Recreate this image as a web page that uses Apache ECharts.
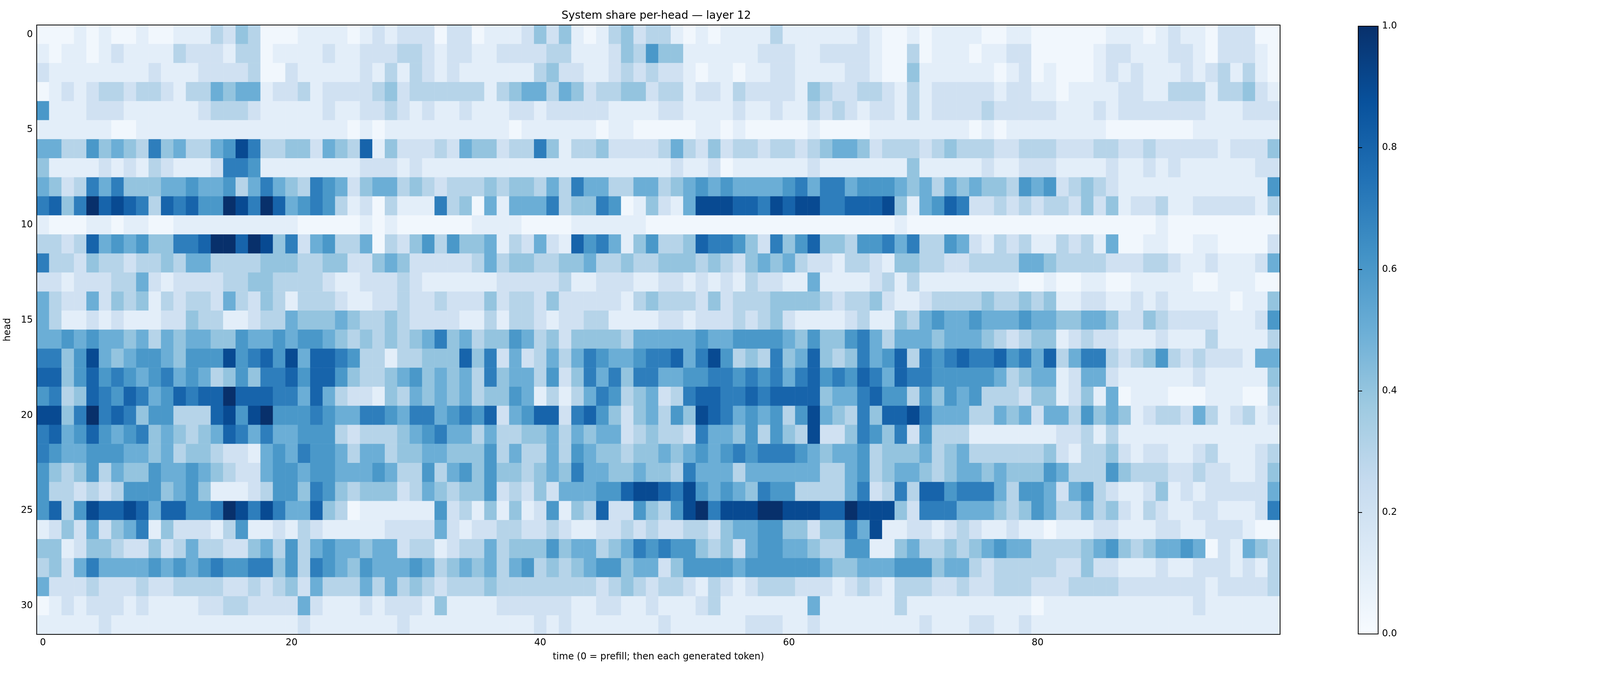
<!DOCTYPE html>
<html><head><meta charset="utf-8">
<script src="https://cdn.jsdelivr.net/npm/echarts@6/dist/echarts.min.js"></script>
<style>html,body{margin:0;padding:0;background:#fff;overflow:hidden}#c{width:100vw;height:100vh}</style>
</head><body><div id="c"></div>
<script>
// Values per head (row), 100 time steps; digit d => d/10 (A => 1.0)
const heads = [
"0 0 0 1 0 1 0 0 1 0 0 1 1 1 3 2 4 3 0 0 0 1 1 1 1  0 1 2 1 2 2 2 0 2 2 0 1 1 1 2 4 2 4 1 0 1 3 4 2 3  3 1 0 1 0 1 1 1 1 3 1 1 1 1 1 1 2 1 0 0 1 0 1 1 1  1 0 0 1 1 0 0 0 0 0 0 1 1 1 0 1 2 1 1 0 2 2 2 0 0",
"1 0 1 1 0 1 2 1 1 1 1 3 2 2 2 1 3 3 0 1 1 1 1 2 1  1 2 2 2 3 3 2 1 2 2 1 1 2 2 2 2 3 3 1 1 1 2 4 3 6  4 4 1 1 1 1 1 1 2 2 2 1 1 2 2 2 2 1 0 0 3 0 1 1 1  0 1 1 2 2 0 0 0 0 0 1 2 2 1 1 1 2 2 1 0 2 2 2 1 0",
"2 1 1 1 1 1 1 1 1 2 1 1 1 2 2 2 2 3 0 0 2 1 1 1 1  1 2 1 3 1 3 2 1 2 1 1 1 1 1 1 3 4 2 2 1 1 2 3 2 3  2 2 1 0 1 1 0 1 1 2 2 1 1 1 1 2 2 1 0 0 4 1 1 1 1  1 1 0 1 2 0 1 0 0 0 1 2 1 2 1 1 1 2 1 2 3 1 3 1 0",
"0 1 2 1 2 3 3 2 3 3 2 1 3 3 5 4 5 5 1 2 2 3 1 2 2  2 2 3 4 2 3 3 3 3 3 3 1 3 4 5 5 3 5 4 2 3 3 4 4 2  3 3 1 2 2 1 3 2 2 2 2 1 4 3 2 2 3 3 2 1 3 1 2 2 2  2 2 1 2 2 1 1 0 1 1 1 1 2 2 1 1 3 3 3 1 3 3 4 2 1",
"6 1 1 1 2 2 2 1 1 1 1 1 1 2 3 3 3 2 1 1 1 1 1 2 1  1 2 2 3 2 1 2 1 1 2 1 1 1 2 2 1 2 2 2 2 2 1 1 1 1  2 2 1 1 1 1 2 1 1 2 1 1 3 2 3 2 1 2 2 1 3 1 2 2 2  2 3 2 2 2 2 2 1 1 1 2 1 2 2 2 2 2 2 2 1 1 1 2 2 2",
"1 1 1 1 1 1 0 0 1 1 1 1 1 1 1 1 1 1 1 1 1 1 1 1 1  0 1 0 1 1 1 1 1 1 1 1 1 1 0 1 1 1 1 1 1 0 1 1 0 0  0 0 0 1 1 0 1 0 0 0 0 0 1 0 0 0 0 1 1 1 1 1 1 1 1  0 1 0 1 1 1 1 1 1 1 1 0 0 0 0 0 0 0 1 1 1 1 1 1 1",
"5 5 3 3 6 4 5 4 3 7 4 5 3 3 5 6 9 7 3 3 4 4 2 5 4  3 8 1 4 2 2 2 3 2 5 4 4 2 3 3 7 4 1 3 3 4 2 2 2 2  3 5 3 2 4 2 3 3 2 3 3 2 3 4 5 5 4 2 3 3 3 2 3 4 3  3 3 2 2 3 3 3 2 2 2 3 3 2 2 3 2 2 2 2 2 1 2 2 2 4",
"4 1 1 1 1 2 1 2 1 3 2 1 1 1 2 7 7 6 1 1 1 1 1 1 1  1 2 2 2 1 2 1 1 1 1 1 1 1 1 1 1 1 1 1 1 1 1 1 1 1  1 2 1 1 2 0 1 1 1 1 1 1 2 1 1 1 1 1 1 1 4 1 1 1 1  1 2 1 1 2 2 2 1 1 1 1 2 1 1 2 1 2 1 1 1 1 1 1 2 2",
"5 4 2 3 7 5 7 4 4 4 5 5 6 5 5 6 3 5 7 5 4 3 7 6 5  2 4 5 5 3 4 3 2 3 3 3 4 3 4 4 3 5 3 7 5 5 3 3 5 5  3 4 5 6 5 6 5 5 5 5 6 7 5 7 7 5 6 6 6 5 4 5 3 5 4  5 4 4 3 6 5 6 2 3 4 3 2 1 1 1 1 1 1 1 1 1 1 1 1 6",
"7 8 4 7 A 8 9 8 7 3 8 7 8 6 6 A 9 7 A 8 5 6 7 6 3  1 2 0 3 1 1 1 7 3 4 0 5 1 5 5 5 7 3 4 4 7 6 0 1 4  2 1 5 9 9 9 8 8 7 9 8 9 9 7 7 8 8 8 9 4 1 5 6 8 7  2 2 3 2 3 2 3 3 2 4 2 4 1 2 2 3 1 1 2 2 2 2 2 1 3",
"1 0 0 0 1 1 0 1 1 0 0 1 1 1 1 1 1 1 1 1 1 0 0 0 0  0 1 0 1 0 0 0 0 0 0 1 1 1 1 0 0 0 0 1 1 1 1 1 1 0  0 0 0 0 0 0 0 0 0 0 0 0 0 0 0 0 0 0 0 1 0 0 0 0 0  0 0 0 0 0 0 0 0 0 0 0 0 0 0 0 1 0 0 0 0 0 0 0 0 0",
"3 3 2 3 8 5 6 5 6 4 4 7 7 8 A A 8 A 9 4 7 2 5 6 3  3 5 0 3 2 4 6 3 6 4 4 5 1 3 2 5 2 1 8 6 7 5 1 4 6  3 3 4 8 7 7 6 4 2 7 4 6 8 4 4 3 6 6 7 5 7 3 3 6 5  2 1 3 2 3 1 1 3 2 3 1 5 0 0 1 1 0 0 1 1 0 0 0 0 2",
"7 3 3 2 4 3 3 2 3 3 4 3 5 5 3 3 3 3 4 4 4 3 3 4 4  2 2 4 5 4 2 2 2 2 2 3 5 3 4 4 3 3 4 4 5 3 3 4 3 3  4 4 4 3 4 3 2 4 5 4 5 3 2 2 1 3 3 2 1 4 4 3 3 2 2  3 3 3 3 5 5 4 3 3 3 3 2 2 2 3 3 2 1 1 2 1 1 1 2 5",
"2 2 1 2 2 2 3 3 5 2 1 2 2 2 2 3 3 4 4 3 3 3 3 2 1  1 2 2 2 3 2 1 1 1 1 1 1 2 2 2 2 2 3 1 1 2 2 2 1 1  2 2 1 2 1 2 1 3 2 2 1 1 5 1 1 1 1 2 3 1 3 1 1 1 1  1 1 1 1 0 0 1 0 0 1 1 0 0 1 1 1 1 1 0 0 1 1 1 0 0",
"5 3 2 2 5 2 4 3 4 1 3 2 3 3 2 5 3 2 4 3 1 3 3 3 2  1 1 2 2 3 2 2 3 2 2 2 4 2 3 3 2 4 2 2 2 2 2 1 3 4  3 3 3 2 4 2 3 3 3 4 4 4 4 3 2 3 3 4 2 1 1 2 3 3 3  3 4 3 3 4 3 4 1 1 2 2 1 1 2 1 2 1 1 1 1 1 0 1 1 4",
"5 3 1 1 2 1 2 1 1 1 2 2 4 3 3 1 1 2 3 3 5 4 4 4 5  4 3 3 4 3 2 2 2 2 1 1 3 1 3 3 2 1 2 2 3 3 1 1 1 1  2 2 1 2 2 2 3 2 3 4 2 1 1 1 1 2 3 1 1 4 3 5 6 5 5  6 5 5 5 6 5 5 4 4 5 5 4 2 2 4 3 2 2 2 2 1 1 1 2 6",
"5 5 6 5 6 5 5 4 5 3 5 4 5 5 4 4 6 5 5 6 5 6 6 5 4  3 4 3 4 3 4 5 7 4 5 3 4 4 6 5 3 4 2 4 4 4 4 3 5 5  5 5 5 6 5 5 6 6 6 6 5 4 6 4 4 6 7 5 3 5 5 5 4 5 5  5 4 3 2 3 4 4 1 2 3 2 2 1 1 1 2 1 1 1 3 1 1 1 1 3",
"7 7 4 6 9 5 4 5 6 6 5 4 6 6 6 9 6 7 8 6 9 5 8 8 7  6 3 3 1 3 3 4 4 4 8 4 7 2 5 2 3 5 3 5 7 6 5 5 6 7  7 8 5 7 9 6 3 4 3 7 4 5 8 4 3 4 7 5 6 8 3 7 6 7 8  7 7 8 6 7 5 8 3 5 7 7 3 2 3 4 6 3 2 3 2 2 2 1 5 5",
"8 8 4 6 8 6 7 6 5 6 7 5 6 5 3 4 6 4 7 7 8 6 8 8 6  4 3 3 4 5 6 4 5 4 5 3 7 4 5 5 3 6 2 4 7 5 7 4 7 7  5 5 6 6 7 7 6 7 6 7 5 7 8 6 7 6 8 7 5 8 7 7 6 6 6  6 6 5 3 4 5 5 1 2 5 5 2 1 1 1 1 1 1 2 1 1 1 1 1 4",
"6 7 3 4 8 7 6 8 7 5 6 8 7 8 8 A 8 8 8 7 7 5 8 5 3  2 2 1 4 3 5 4 5 4 5 3 4 4 6 5 1 3 1 3 5 7 6 3 4 5  2 3 7 8 8 7 7 8 7 8 8 8 8 4 5 5 7 8 6 6 3 6 4 6 5  6 3 3 3 2 4 4 1 2 4 1 5 0 1 1 1 0 0 0 1 1 1 0 0 3",
"9 9 4 7 A 7 8 7 4 6 6 3 3 3 8 9 6 9 A 6 6 6 7 6 5  5 7 7 6 5 7 7 5 6 7 6 8 2 5 6 8 8 2 7 8 6 4 2 4 5  3 6 4 9 8 7 5 6 5 6 3 6 9 5 4 3 7 4 8 8 9 7 5 5 5  3 3 5 4 5 2 5 5 3 6 4 5 4 1 2 3 3 2 5 3 1 2 3 1 2",
"7 8 5 6 8 6 5 6 7 4 5 4 3 4 5 8 7 5 7 5 5 6 6 6 3  2 3 3 3 4 5 6 7 5 5 3 5 3 3 4 4 5 3 5 4 5 5 2 3 4  3 3 2 7 5 5 4 6 3 6 4 3 9 2 2 4 7 6 4 7 2 6 3 3 3  1 1 1 1 1 1 1 2 2 3 1 3 1 1 1 1 1 1 1 1 1 1 1 1 1",
"7 6 5 5 6 6 6 5 5 4 5 3 4 4 3 2 2 1 5 6 5 7 6 6 5  3 5 5 3 4 4 5 5 4 4 4 6 3 5 3 3 5 3 6 5 4 4 3 4 4  5 4 5 6 5 6 7 6 7 7 7 6 5 4 5 5 6 3 4 4 4 5 3 4 5  3 3 3 3 3 3 4 2 1 3 3 4 2 1 2 2 1 1 2 3 1 1 1 2 3",
"6 4 3 4 6 3 5 4 4 6 5 5 6 5 4 3 2 2 5 6 6 5 6 6 5  5 5 6 5 3 3 6 3 5 6 4 6 4 4 3 4 5 4 7 5 5 4 4 5 4  4 3 7 5 5 5 3 5 5 5 5 5 5 3 3 5 6 3 4 5 5 4 3 4 5  5 4 5 4 4 4 6 5 3 3 3 6 4 3 3 3 2 2 3 2 2 1 1 2 4",
"6 3 3 2 3 2 3 6 6 6 4 5 6 4 1 1 1 2 3 6 6 4 7 6 4  3 4 4 4 2 3 5 4 3 4 4 6 2 3 2 4 2 5 5 5 6 6 8 9 9  8 7 9 6 5 6 5 4 7 6 6 3 3 3 3 5 7 2 3 7 3 8 8 6 7  7 7 5 3 6 6 5 2 5 6 3 2 1 1 2 4 1 2 1 2 2 2 2 2 5",
"6 8 3 6 9 8 8 9 8 5 8 8 6 6 7 A 9 7 9 7 5 5 8 4 3  0 1 1 1 1 1 1 6 2 3 1 4 1 4 1 2 6 1 4 3 8 2 2 6 4  3 6 9 A 7 9 9 9 A A 9 9 9 8 8 A 9 9 9 4 2 7 7 7 5  5 5 4 3 4 6 5 3 3 5 3 4 2 1 3 2 1 1 2 2 1 1 1 2 7",
"1 2 4 2 5 2 4 5 7 1 4 2 2 2 1 3 6 1 1 2 1 3 2 1 1  1 1 1 2 2 2 2 5 2 1 2 2 3 3 2 2 3 2 1 1 2 2 3 2 3  2 2 3 3 2 4 5 5 6 6 4 4 2 4 4 7 5 9 1 1 2 2 1 2 3  2 1 1 2 1 1 0 1 1 1 2 2 1 1 1 2 2 1 1 2 2 2 1 0 0",
"4 4 1 2 4 4 3 2 2 4 2 3 5 3 3 2 2 4 5 3 6 3 5 6 5  5 4 5 5 2 3 3 1 2 3 3 5 3 4 4 4 6 4 5 5 3 4 5 7 6  7 6 6 4 3 4 2 5 6 6 5 5 4 3 3 6 6 1 1 4 5 3 3 4 3  4 5 6 5 5 3 3 3 3 4 5 6 4 3 4 5 5 6 5 0 2 1 5 4 3",
"3 4 2 5 7 5 5 5 5 6 5 6 5 6 7 6 6 7 7 4 6 3 7 6 5  4 6 5 5 5 6 5 3 4 5 4 5 3 5 6 3 4 3 4 5 6 6 4 5 5  2 4 6 6 6 6 5 6 6 6 6 6 6 5 4 4 5 5 5 6 6 6 4 5 5  3 2 3 3 3 3 3 2 2 4 2 2 1 1 1 2 1 1 2 2 2 1 2 1 3",
"5 2 2 2 3 2 2 2 3 2 2 3 3 3 3 2 2 3 2 3 4 2 5 3 3  3 5 3 5 3 4 3 2 3 3 3 4 3 3 3 3 3 3 3 3 2 3 4 3 2  3 3 2 1 3 2 1 2 3 3 3 2 2 2 1 2 3 2 1 3 3 3 2 2 3  2 2 3 3 3 2 2 2 3 3 3 3 2 2 2 2 2 2 2 1 2 2 2 2 3",
"0 1 2 1 2 2 2 1 2 1 1 1 1 2 2 3 3 2 2 2 2 5 2 1 1  1 2 1 2 2 2 1 4 1 1 1 1 2 2 2 2 2 2 1 1 2 2 1 1 2  1 1 1 2 3 1 1 1 1 1 1 1 5 1 1 1 1 1 1 3 1 1 1 1 1  1 1 1 1 1 0 1 1 1 1 1 1 1 1 1 1 1 1 2 1 1 1 1 1 1",
"1 1 1 1 1 2 1 1 1 1 1 1 1 1 1 1 1 1 1 1 1 2 1 1 1  1 1 1 1 2 1 1 1 1 1 1 1 1 1 1 2 1 2 1 1 1 1 1 1 1  2 1 1 1 1 1 1 2 2 2 1 1 2 1 1 1 1 1 1 1 1 2 1 1 1  2 2 1 1 2 1 1 1 1 1 1 1 1 1 1 1 1 1 1 1 1 1 1 1 1"
];
const timeSteps = Array.from({length: 100}, (_, i) => String(i));
const headLabels = Array.from({length: 32}, (_, i) => String(i));
const xTickLabels = ['0', '20', '40', '60', '80'];
const yTickLabels = ['0', '5', '10', '15', '20', '25', '30'];
const blues = ['#f7fbff','#deebf7','#c6dbef','#9ecae1','#6baed6','#4292c6','#2171b5','#08519c','#08306b'];

const data = [];
heads.forEach((row, y) => {
  let t = row.trim().split(/\s+/);
  while (t.length < 100) t.push(t[t.length - 1]);
  t = t.slice(0, 100);
  t.forEach((c, x) => {
    const d = c === 'A' ? 10 : parseInt(c, 10);
    data.push([x, y, d === 0 ? 0.03 : d / 10]);
  });
});

const el = document.getElementById('c');
const W = el.clientWidth || 6300, H = el.clientHeight || 1728;
const sx = W / 6300, sy = H / 1728;
const px = (v) => Math.round(v * sx), py = (v) => Math.round(v * sy);
const font = 'DejaVu Sans';
const chart = echarts.init(el, null, {renderer: 'canvas', width: W, height: H});
chart.setOption({
  animation: false,
  backgroundColor: '#fff',
  title: {
    text: 'System share per-head — layer 12', left: px(2576), top: py(22), textAlign: 'center',
    textStyle: {fontFamily: font, fontSize: 28, fontWeight: 'normal', color: '#000'}
  },
  grid: [
    {left: px(112), top: py(64), width: px(4928), height: py(1560), show: true, borderColor: '#000', borderWidth: 2, backgroundColor: 'transparent', z: 5},
    {left: px(5348), top: py(67), width: px(79), height: py(1556), show: true, borderColor: '#000', borderWidth: 2,
     backgroundColor: {type: 'linear', x: 0, y: 1, x2: 0, y2: 0,
       colorStops: blues.map((c, i) => ({offset: i / (blues.length - 1), color: c}))}}
  ],
  xAxis: [
    {type: 'category', data: timeSteps, gridIndex: 0,
     name: 'time (0 = prefill; then each generated token)', nameLocation: 'middle', nameGap: 46,
     nameTextStyle: {fontFamily: font, fontSize: 24, color: '#000'},
     axisLine: {show: false},
     axisTick: {alignWithLabel: true, length: 10, lineStyle: {color: '#000', width: 2}, interval: (i) => xTickLabels.includes(String(i))},
     axisLabel: {fontFamily: font, fontSize: 24, color: '#000', margin: 10, interval: (i) => xTickLabels.includes(String(i))},
     splitLine: {show: false}},
    {type: 'value', gridIndex: 1, show: false, min: 0, max: 1}
  ],
  yAxis: [
    {type: 'category', data: headLabels, gridIndex: 0, inverse: true,
     name: 'head', nameLocation: 'middle', nameGap: 62, nameRotate: 90,
     nameTextStyle: {fontFamily: font, fontSize: 24, color: '#000'},
     axisLine: {show: false},
     axisTick: {alignWithLabel: true, length: 10, lineStyle: {color: '#000', width: 2}, interval: (i) => yTickLabels.includes(String(i))},
     axisLabel: {fontFamily: font, fontSize: 24, color: '#000', margin: 10, interval: (i) => yTickLabels.includes(String(i))},
     splitLine: {show: false}},
    {type: 'value', gridIndex: 1, position: 'right', min: 0, max: 1, interval: 0.2,
     axisLine: {show: false},
     axisTick: {show: true, length: 10, lineStyle: {color: '#000', width: 2}},
     axisLabel: {fontFamily: font, fontSize: 24, color: '#000', margin: 10, formatter: (v) => v.toFixed(1)},
     splitLine: {show: false}}
  ],
  visualMap: {show: false, min: 0, max: 1, dimension: 2, seriesIndex: 0, inRange: {color: blues}},
  series: [{
    type: 'heatmap', xAxisIndex: 0, yAxisIndex: 0, data: data,
    itemStyle: {borderWidth: 0}, emphasis: {disabled: true}, progressive: 0
  }]
});
</script></body></html>
